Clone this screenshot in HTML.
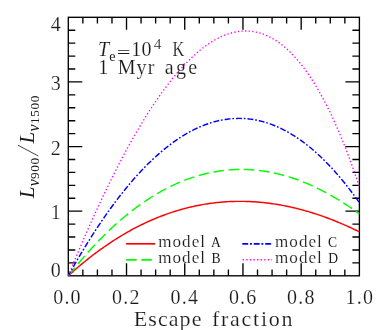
<!DOCTYPE html>
<html><head><meta charset="utf-8"><style>html,body{margin:0;padding:0;background:#fff}svg{display:block}</style></head>
<body><svg width="382" height="330" viewBox="0 0 382 330">
<rect width="382" height="330" fill="#fff"/>
<defs><clipPath id="c"><rect x="68.3" y="17.3" width="291.09999999999997" height="258.5"/></clipPath></defs>
<path d="M82.85,275.8v-6.2M82.85,17.3v6.2M97.41,275.8v-6.2M97.41,17.3v6.2M111.97,275.8v-6.2M111.97,17.3v6.2M126.52,275.8v-12.5M126.52,17.3v12.5M141.07,275.8v-6.2M141.07,17.3v6.2M155.63,275.8v-6.2M155.63,17.3v6.2M170.19,275.8v-6.2M170.19,17.3v6.2M184.74,275.8v-12.5M184.74,17.3v12.5M199.29,275.8v-6.2M199.29,17.3v6.2M213.85,275.8v-6.2M213.85,17.3v6.2M228.40,275.8v-6.2M228.40,17.3v6.2M242.96,275.8v-12.5M242.96,17.3v12.5M257.51,275.8v-6.2M257.51,17.3v6.2M272.07,275.8v-6.2M272.07,17.3v6.2M286.62,275.8v-6.2M286.62,17.3v6.2M301.18,275.8v-12.5M301.18,17.3v12.5M315.74,275.8v-6.2M315.74,17.3v6.2M330.29,275.8v-6.2M330.29,17.3v6.2M344.84,275.8v-6.2M344.84,17.3v6.2M68.3,262.88h7M359.4,262.88h-7M68.3,249.95h7M359.4,249.95h-7M68.3,237.03h7M359.4,237.03h-7M68.3,224.10h7M359.4,224.10h-7M68.3,211.18h14M359.4,211.18h-14M68.3,198.25h7M359.4,198.25h-7M68.3,185.32h7M359.4,185.32h-7M68.3,172.40h7M359.4,172.40h-7M68.3,159.48h7M359.4,159.48h-7M68.3,146.55h14M359.4,146.55h-14M68.3,133.62h7M359.4,133.62h-7M68.3,120.70h7M359.4,120.70h-7M68.3,107.78h7M359.4,107.78h-7M68.3,94.85h7M359.4,94.85h-7M68.3,81.93h14M359.4,81.93h-14M68.3,69.00h7M359.4,69.00h-7M68.3,56.07h7M359.4,56.07h-7M68.3,43.15h7M359.4,43.15h-7M68.3,30.22h7M359.4,30.22h-7" stroke="#000" stroke-width="1.35" fill="none"/>
<rect x="68.3" y="17.3" width="291.09999999999997" height="258.5" fill="none" stroke="#000" stroke-width="1.35"/>
<g fill="none" stroke-width="1.45" clip-path="url(#c)">
<path d="M68.30,275.80 L69.76,274.48 L71.21,273.16 L72.67,271.86 L74.12,270.58 L75.58,269.31 L77.03,268.05 L78.49,266.80 L79.94,265.57 L81.40,264.35 L82.85,263.14 L84.31,261.94 L85.77,260.76 L87.22,259.59 L88.68,258.43 L90.13,257.29 L91.59,256.16 L93.04,255.04 L94.50,253.93 L95.95,252.84 L97.41,251.76 L98.87,250.69 L100.32,249.63 L101.78,248.59 L103.23,247.55 L104.69,246.53 L106.14,245.53 L107.60,244.53 L109.05,243.55 L110.51,242.58 L111.96,241.62 L113.42,240.67 L114.88,239.74 L116.33,238.82 L117.79,237.91 L119.24,237.01 L120.70,236.12 L122.15,235.25 L123.61,234.39 L125.06,233.54 L126.52,232.70 L127.98,231.87 L129.43,231.05 L130.89,230.25 L132.34,229.46 L133.80,228.68 L135.25,227.91 L136.71,227.16 L138.16,226.41 L139.62,225.68 L141.07,224.96 L142.53,224.24 L143.99,223.55 L145.44,222.86 L146.90,222.18 L148.35,221.52 L149.81,220.86 L151.26,220.22 L152.72,219.59 L154.17,218.97 L155.63,218.36 L157.09,217.77 L158.54,217.18 L160.00,216.61 L161.45,216.04 L162.91,215.49 L164.36,214.95 L165.82,214.42 L167.27,213.90 L168.73,213.39 L170.19,212.89 L171.64,212.41 L173.10,211.93 L174.55,211.47 L176.01,211.01 L177.46,210.57 L178.92,210.14 L180.37,209.71 L181.83,209.30 L183.28,208.90 L184.74,208.51 L186.20,208.13 L187.65,207.77 L189.11,207.41 L190.56,207.06 L192.02,206.72 L193.47,206.40 L194.93,206.08 L196.38,205.78 L197.84,205.48 L199.29,205.20 L200.75,204.92 L202.21,204.66 L203.66,204.41 L205.12,204.16 L206.57,203.93 L208.03,203.71 L209.48,203.50 L210.94,203.29 L212.39,203.10 L213.85,202.92 L215.31,202.75 L216.76,202.59 L218.22,202.43 L219.67,202.29 L221.13,202.16 L222.58,202.04 L224.04,201.93 L225.49,201.83 L226.95,201.73 L228.40,201.65 L229.86,201.58 L231.32,201.52 L232.77,201.47 L234.23,201.42 L235.68,201.39 L237.14,201.37 L238.59,201.35 L240.05,201.35 L241.50,201.36 L242.96,201.37 L244.42,201.40 L245.87,201.43 L247.33,201.48 L248.78,201.53 L250.24,201.59 L251.69,201.67 L253.15,201.75 L254.60,201.84 L256.06,201.94 L257.51,202.05 L258.97,202.17 L260.43,202.30 L261.88,202.44 L263.34,202.59 L264.79,202.74 L266.25,202.91 L267.70,203.09 L269.16,203.27 L270.61,203.47 L272.07,203.67 L273.53,203.88 L274.98,204.10 L276.44,204.33 L277.89,204.57 L279.35,204.82 L280.80,205.08 L282.26,205.35 L283.71,205.62 L285.17,205.91 L286.62,206.20 L288.08,206.51 L289.54,206.82 L290.99,207.14 L292.45,207.47 L293.90,207.81 L295.36,208.15 L296.81,208.51 L298.27,208.87 L299.72,209.25 L301.18,209.63 L302.64,210.02 L304.09,210.42 L305.55,210.83 L307.00,211.25 L308.46,211.67 L309.91,212.11 L311.37,212.55 L312.82,213.00 L314.28,213.46 L315.73,213.93 L317.19,214.41 L318.65,214.89 L320.10,215.39 L321.56,215.89 L323.01,216.40 L324.47,216.92 L325.92,217.45 L327.38,217.98 L328.83,218.53 L330.29,219.08 L331.75,219.64 L333.20,220.21 L334.66,220.79 L336.11,221.37 L337.57,221.97 L339.02,222.57 L340.48,223.18 L341.93,223.80 L343.39,224.43 L344.84,225.06 L346.30,225.70 L347.76,226.36 L349.21,227.01 L350.67,227.68 L352.12,228.36 L353.58,229.04 L355.03,229.73 L356.49,230.43 L357.94,231.14 L359.40,231.86" stroke="#f00"/>
<path d="M68.30,275.80 L69.76,273.95 L71.21,272.12 L72.67,270.31 L74.12,268.52 L75.58,266.74 L77.03,264.98 L78.49,263.24 L79.94,261.51 L81.40,259.80 L82.85,258.11 L84.31,256.43 L85.77,254.77 L87.22,253.13 L88.68,251.51 L90.13,249.90 L91.59,248.31 L93.04,246.74 L94.50,245.18 L95.95,243.64 L97.41,242.12 L98.87,240.61 L100.32,239.12 L101.78,237.65 L103.23,236.19 L104.69,234.75 L106.14,233.32 L107.60,231.92 L109.05,230.53 L110.51,229.15 L111.96,227.79 L113.42,226.45 L114.88,225.13 L116.33,223.82 L117.79,222.53 L119.24,221.25 L120.70,219.99 L122.15,218.75 L123.61,217.52 L125.06,216.31 L126.52,215.11 L127.98,213.94 L129.43,212.77 L130.89,211.63 L132.34,210.50 L133.80,209.38 L135.25,208.28 L136.71,207.20 L138.16,206.13 L139.62,205.08 L141.07,204.05 L142.53,203.03 L143.99,202.03 L145.44,201.04 L146.90,200.07 L148.35,199.11 L149.81,198.17 L151.26,197.25 L152.72,196.34 L154.17,195.44 L155.63,194.57 L157.09,193.70 L158.54,192.86 L160.00,192.03 L161.45,191.21 L162.91,190.41 L164.36,189.63 L165.82,188.86 L167.27,188.10 L168.73,187.36 L170.19,186.64 L171.64,185.93 L173.10,185.24 L174.55,184.56 L176.01,183.90 L177.46,183.25 L178.92,182.62 L180.37,182.01 L181.83,181.40 L183.28,180.82 L184.74,180.25 L186.20,179.69 L187.65,179.15 L189.11,178.62 L190.56,178.11 L192.02,177.62 L193.47,177.13 L194.93,176.67 L196.38,176.22 L197.84,175.78 L199.29,175.36 L200.75,174.95 L202.21,174.56 L203.66,174.18 L205.12,173.82 L206.57,173.47 L208.03,173.13 L209.48,172.81 L210.94,172.51 L212.39,172.22 L213.85,171.95 L215.31,171.68 L216.76,171.44 L218.22,171.21 L219.67,170.99 L221.13,170.79 L222.58,170.60 L224.04,170.42 L225.49,170.26 L226.95,170.12 L228.40,169.99 L229.86,169.87 L231.32,169.77 L232.77,169.68 L234.23,169.61 L235.68,169.55 L237.14,169.50 L238.59,169.47 L240.05,169.45 L241.50,169.45 L242.96,169.46 L244.42,169.48 L245.87,169.52 L247.33,169.58 L248.78,169.64 L250.24,169.72 L251.69,169.82 L253.15,169.93 L254.60,170.05 L256.06,170.19 L257.51,170.34 L258.97,170.50 L260.43,170.68 L261.88,170.87 L263.34,171.08 L264.79,171.29 L266.25,171.53 L267.70,171.77 L269.16,172.03 L270.61,172.31 L272.07,172.60 L273.53,172.90 L274.98,173.21 L276.44,173.54 L277.89,173.88 L279.35,174.24 L280.80,174.60 L282.26,174.99 L283.71,175.38 L285.17,175.79 L286.62,176.21 L288.08,176.65 L289.54,177.10 L290.99,177.56 L292.45,178.04 L293.90,178.53 L295.36,179.03 L296.81,179.54 L298.27,180.07 L299.72,180.61 L301.18,181.17 L302.64,181.74 L304.09,182.32 L305.55,182.91 L307.00,183.52 L308.46,184.14 L309.91,184.77 L311.37,185.42 L312.82,186.08 L314.28,186.75 L315.73,187.44 L317.19,188.14 L318.65,188.85 L320.10,189.57 L321.56,190.31 L323.01,191.06 L324.47,191.82 L325.92,192.60 L327.38,193.39 L328.83,194.19 L330.29,195.00 L331.75,195.83 L333.20,196.67 L334.66,197.52 L336.11,198.38 L337.57,199.26 L339.02,200.15 L340.48,201.05 L341.93,201.97 L343.39,202.90 L344.84,203.84 L346.30,204.79 L347.76,205.76 L349.21,206.73 L350.67,207.72 L352.12,208.73 L353.58,209.74 L355.03,210.77 L356.49,211.81 L357.94,212.86 L359.40,213.93" stroke="#0f0" stroke-dasharray="10.5 4.7"/>
<path d="M68.30,275.80 L69.76,273.18 L71.21,270.58 L72.67,268.00 L74.12,265.45 L75.58,262.91 L77.03,260.40 L78.49,257.90 L79.94,255.43 L81.40,252.98 L82.85,250.55 L84.31,248.14 L85.77,245.75 L87.22,243.39 L88.68,241.04 L90.13,238.72 L91.59,236.42 L93.04,234.14 L94.50,231.88 L95.95,229.65 L97.41,227.43 L98.87,225.24 L100.32,223.06 L101.78,220.91 L103.23,218.78 L104.69,216.68 L106.14,214.59 L107.60,212.53 L109.05,210.48 L110.51,208.46 L111.96,206.46 L113.42,204.48 L114.88,202.53 L116.33,200.60 L117.79,198.68 L119.24,196.79 L120.70,194.92 L122.15,193.08 L123.61,191.25 L125.06,189.45 L126.52,187.67 L127.98,185.91 L129.43,184.17 L130.89,182.46 L132.34,180.77 L133.80,179.10 L135.25,177.45 L136.71,175.82 L138.16,174.22 L139.62,172.64 L141.07,171.08 L142.53,169.54 L143.99,168.02 L145.44,166.53 L146.90,165.06 L148.35,163.61 L149.81,162.19 L151.26,160.78 L152.72,159.40 L154.17,158.04 L155.63,156.70 L157.09,155.39 L158.54,154.10 L160.00,152.83 L161.45,151.58 L162.91,150.36 L164.36,149.16 L165.82,147.98 L167.27,146.82 L168.73,145.69 L170.19,144.58 L171.64,143.49 L173.10,142.43 L174.55,141.38 L176.01,140.36 L177.46,139.37 L178.92,138.39 L180.37,137.44 L181.83,136.51 L183.28,135.60 L184.74,134.72 L186.20,133.86 L187.65,133.03 L189.11,132.21 L190.56,131.42 L192.02,130.65 L193.47,129.91 L194.93,129.19 L196.38,128.49 L197.84,127.81 L199.29,127.16 L200.75,126.53 L202.21,125.92 L203.66,125.34 L205.12,124.78 L206.57,124.25 L208.03,123.73 L209.48,123.24 L210.94,122.78 L212.39,122.34 L213.85,121.92 L215.31,121.52 L216.76,121.15 L218.22,120.80 L219.67,120.47 L221.13,120.17 L222.58,119.89 L224.04,119.64 L225.49,119.41 L226.95,119.20 L228.40,119.02 L229.86,118.86 L231.32,118.72 L232.77,118.61 L234.23,118.52 L235.68,118.45 L237.14,118.41 L238.59,118.39 L240.05,118.40 L241.50,118.43 L242.96,118.49 L244.42,118.56 L245.87,118.67 L247.33,118.79 L248.78,118.94 L250.24,119.12 L251.69,119.32 L253.15,119.54 L254.60,119.78 L256.06,120.06 L257.51,120.35 L258.97,120.67 L260.43,121.01 L261.88,121.38 L263.34,121.77 L264.79,122.19 L266.25,122.63 L267.70,123.09 L269.16,123.58 L270.61,124.10 L272.07,124.64 L273.53,125.20 L274.98,125.79 L276.44,126.40 L277.89,127.03 L279.35,127.70 L280.80,128.38 L282.26,129.09 L283.71,129.83 L285.17,130.59 L286.62,131.37 L288.08,132.18 L289.54,133.01 L290.99,133.87 L292.45,134.76 L293.90,135.66 L295.36,136.60 L296.81,137.56 L298.27,138.54 L299.72,139.55 L301.18,140.58 L302.64,141.64 L304.09,142.72 L305.55,143.83 L307.00,144.96 L308.46,146.12 L309.91,147.30 L311.37,148.51 L312.82,149.75 L314.28,151.01 L315.73,152.29 L317.19,153.60 L318.65,154.94 L320.10,156.30 L321.56,157.68 L323.01,159.09 L324.47,160.53 L325.92,161.99 L327.38,163.48 L328.83,164.99 L330.29,166.53 L331.75,168.10 L333.20,169.69 L334.66,171.30 L336.11,172.94 L337.57,174.61 L339.02,176.30 L340.48,178.02 L341.93,179.77 L343.39,181.54 L344.84,183.33 L346.30,185.16 L347.76,187.00 L349.21,188.88 L350.67,190.78 L352.12,192.70 L353.58,194.65 L355.03,196.63 L356.49,198.64 L357.94,200.66 L359.40,202.72" stroke="#00f" stroke-dasharray="5.9 1.85 1.7 2" stroke-dashoffset="1.2"/>
<path d="M68.30,275.80 L69.76,272.22 L71.21,268.67 L72.67,265.13 L74.12,261.62 L75.58,258.12 L77.03,254.65 L78.49,251.20 L79.94,247.77 L81.40,244.36 L82.85,240.97 L84.31,237.60 L85.77,234.26 L87.22,230.93 L88.68,227.63 L90.13,224.35 L91.59,221.09 L93.04,217.86 L94.50,214.64 L95.95,211.45 L97.41,208.28 L98.87,205.14 L100.32,202.01 L101.78,198.91 L103.23,195.83 L104.69,192.78 L106.14,189.75 L107.60,186.74 L109.05,183.76 L110.51,180.80 L111.96,177.86 L113.42,174.95 L114.88,172.06 L116.33,169.19 L117.79,166.35 L119.24,163.54 L120.70,160.74 L122.15,157.98 L123.61,155.24 L125.06,152.52 L126.52,149.83 L127.98,147.16 L129.43,144.52 L130.89,141.91 L132.34,139.32 L133.80,136.75 L135.25,134.22 L136.71,131.71 L138.16,129.22 L139.62,126.76 L141.07,124.33 L142.53,121.93 L143.99,119.55 L145.44,117.20 L146.90,114.87 L148.35,112.58 L149.81,110.31 L151.26,108.07 L152.72,105.86 L154.17,103.67 L155.63,101.52 L157.09,99.39 L158.54,97.29 L160.00,95.22 L161.45,93.18 L162.91,91.17 L164.36,89.18 L165.82,87.23 L167.27,85.30 L168.73,83.41 L170.19,81.55 L171.64,79.71 L173.10,77.91 L174.55,76.14 L176.01,74.39 L177.46,72.68 L178.92,71.00 L180.37,69.35 L181.83,67.74 L183.28,66.15 L184.74,64.60 L186.20,63.08 L187.65,61.59 L189.11,60.13 L190.56,58.70 L192.02,57.31 L193.47,55.96 L194.93,54.63 L196.38,53.34 L197.84,52.08 L199.29,50.86 L200.75,49.67 L202.21,48.51 L203.66,47.39 L205.12,46.31 L206.57,45.26 L208.03,44.24 L209.48,43.26 L210.94,42.32 L212.39,41.41 L213.85,40.54 L215.31,39.70 L216.76,38.90 L218.22,38.14 L219.67,37.41 L221.13,36.73 L222.58,36.08 L224.04,35.46 L225.49,34.89 L226.95,34.35 L228.40,33.86 L229.86,33.40 L231.32,32.98 L232.77,32.60 L234.23,32.26 L235.68,31.96 L237.14,31.70 L238.59,31.48 L240.05,31.30 L241.50,31.16 L242.96,31.06 L244.42,31.01 L245.87,30.99 L247.33,31.02 L248.78,31.09 L250.24,31.21 L251.69,31.36 L253.15,31.56 L254.60,31.81 L256.06,32.09 L257.51,32.42 L258.97,32.80 L260.43,33.22 L261.88,33.69 L263.34,34.20 L264.79,34.75 L266.25,35.36 L267.70,36.00 L269.16,36.70 L270.61,37.44 L272.07,38.23 L273.53,39.07 L274.98,39.96 L276.44,40.89 L277.89,41.87 L279.35,42.90 L280.80,43.98 L282.26,45.11 L283.71,46.29 L285.17,47.53 L286.62,48.81 L288.08,50.14 L289.54,51.53 L290.99,52.96 L292.45,54.45 L293.90,55.99 L295.36,57.59 L296.81,59.23 L298.27,60.94 L299.72,62.69 L301.18,64.50 L302.64,66.37 L304.09,68.29 L305.55,70.27 L307.00,72.30 L308.46,74.39 L309.91,76.54 L311.37,78.74 L312.82,81.00 L314.28,83.32 L315.73,85.70 L317.19,88.14 L318.65,90.64 L320.10,93.20 L321.56,95.82 L323.01,98.50 L324.47,101.25 L325.92,104.05 L327.38,106.92 L328.83,109.85 L330.29,112.84 L331.75,115.90 L333.20,119.02 L334.66,122.21 L336.11,125.46 L337.57,128.78 L339.02,132.17 L340.48,135.62 L341.93,139.14 L343.39,142.73 L344.84,146.39 L346.30,150.11 L347.76,153.91 L349.21,157.78 L350.67,161.71 L352.12,165.72 L353.58,169.81 L355.03,173.96 L356.49,178.19 L357.94,182.49 L359.40,186.87" stroke="#f0f" stroke-width="1.35" stroke-dasharray="1.35 2.25"/>
</g>
<g fill="none" stroke-width="1.7">
<path d="M126.1,243.8H155.1" stroke="#f00"/>
<path d="M126.1,259.8H155.1" stroke="#0f0" stroke-dasharray="10.5 4.7"/>
<path d="M242.3,243.8H271.2" stroke="#00f" stroke-dasharray="5.9 1.75 1.9 1.9"/>
<path d="M242.6,259.8H272" stroke="#f0f" stroke-width="1.5" stroke-dasharray="1.4 2.2"/>
</g>
<g font-family="'Liberation Serif', serif" fill="#1a1a1a" stroke="#fff" stroke-width="0.16" style="will-change:opacity;opacity:0.999">
<g font-size="20" text-anchor="middle" letter-spacing="1.2">
<text x="67.5" y="304">0.0</text>
<text x="126.3" y="304">0.2</text>
<text x="184.9" y="304">0.4</text>
<text x="243.2" y="304">0.6</text>
<text x="301.4" y="304">0.8</text>
<text x="359.8" y="304">1.0</text>
</g>
<g font-size="20" text-anchor="end">
<text x="60.7" y="30.6">4</text>
<text x="60.7" y="89.8">3</text>
<text x="60.7" y="154.6">2</text>
<text x="60.7" y="218.7">1</text>
<text x="60.7" y="276.8">0</text>
</g>
<text transform="translate(133.7,326.4) scale(1.1,1)" font-size="20" letter-spacing="1.0">Escape</text>
<text transform="translate(211.9,326.4) scale(1.1,1)" font-size="20" letter-spacing="1.6">fraction</text>
<g font-size="16" letter-spacing="0.95">
<text transform="translate(158.2,246.7) scale(1.07,1)">model</text>
<text transform="translate(158.2,263) scale(1.07,1)">model</text>
<text transform="translate(275,246.7) scale(1.07,1)">model</text>
<text transform="translate(275,263) scale(1.07,1)">model</text>
</g>
<g font-size="13.6" text-anchor="middle" stroke="none">
<text x="215.8" y="246.7">A</text>
<text x="216.1" y="263">B</text>
<text x="332.5" y="246.7">C</text>
<text x="333.1" y="263">D</text>
</g>
<text y="56.4" font-size="20"><tspan x="97.9" font-style="italic">T</tspan><tspan x="109.3" y="61.2" font-size="14" stroke="none">e</tspan><tspan x="131.2" y="56.4">1</tspan><tspan x="141.6">0</tspan><tspan x="153.7" y="49.2" font-size="15.5">4</tspan></text>
<text transform="translate(116.7,58) scale(1.22,0.85)" font-size="20" stroke="none">=</text>
<text transform="translate(172.5,56.4) scale(0.82,1)" font-size="20">K</text>
<text y="73.9" font-size="20" letter-spacing="0.6"><tspan x="98.2">1</tspan><tspan x="117.7" letter-spacing="1.1">Myr</tspan><tspan x="164.8" letter-spacing="2.3">age</tspan></text>
<g transform="rotate(-90)" stroke="none">
<text x="-198.2" y="34.3" font-size="21" font-style="italic">L</text>
<text x="-186.2" y="38.6" font-size="16" font-style="italic">ν</text>
<text x="-179" y="38.6" font-size="13.3" letter-spacing="0.6">900</text>
<text x="-143.5" y="34.3" font-size="21" font-style="italic">L</text>
<text x="-131.5" y="38.6" font-size="16" font-style="italic">ν</text>
<text x="-124" y="38.6" font-size="13.3" letter-spacing="0.6">1500</text>
</g>
<path d="M38.3,156L17.8,145.1" stroke="#444" stroke-width="1" fill="none"/>
</g>
</svg></body></html>
